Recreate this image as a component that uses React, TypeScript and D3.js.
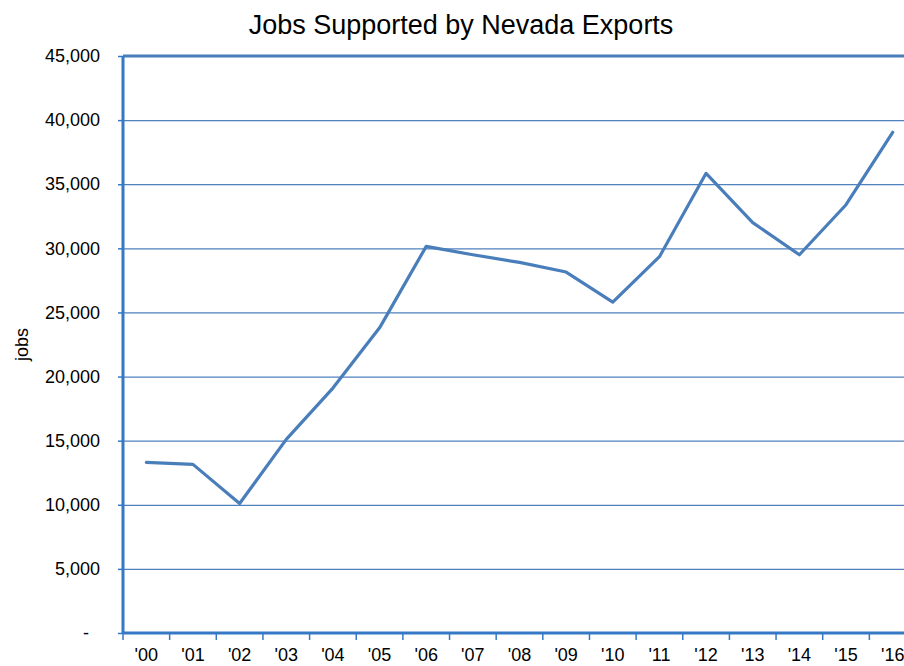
import { useEffect, useRef } from 'react';
import * as d3 from 'd3';

const years = ["'00", "'01", "'02", "'03", "'04", "'05", "'06", "'07", "'08", "'09", "'10", "'11", "'12", "'13", "'14", "'15", "'16"];
const jobs = [13300, 13150, 10100, 15100, 19100, 23800, 30150, 29500, 28900, 28150, 25800, 29350, 35850, 32000, 29500, 33400, 39050];
const yTicks = [0, 5000, 10000, 15000, 20000, 25000, 30000, 35000, 40000, 45000];

export default function App() {
  const svgRef = useRef<SVGSVGElement>(null);
  const width = 904;
  const height = 666;
  const margin = { top: 56, right: -12, bottom: 33, left: 123 };

  useEffect(() => {
    if (!svgRef.current) return;
    const innerW = width - margin.left - margin.right;
    const innerH = height - margin.top - margin.bottom;
    const font = 'Liberation Sans, Arial, sans-serif';

    const x = d3.scaleBand().domain(years).range([0, innerW]).paddingInner(0).paddingOuter(0);
    const y = d3.scaleLinear().domain([0, 45000]).range([innerH, 0]);

    const svg = d3.select(svgRef.current);
    svg.selectAll('*').remove();

    svg.append('text')
      .attr('x', 461).attr('y', 34)
      .attr('text-anchor', 'middle')
      .attr('font-family', font).attr('font-size', 27)
      .attr('fill', '#000')
      .text('Jobs Supported by Nevada Exports');

    svg.append('text')
      .attr('transform', `translate(28,${margin.top + innerH / 2}) rotate(-90)`)
      .attr('text-anchor', 'middle')
      .attr('font-family', font).attr('font-size', 18)
      .text('jobs');

    const g = svg.append('g').attr('transform', `translate(${margin.left},${margin.top})`);

    // grid
    g.append('g')
      .call(d3.axisLeft(y).tickValues(yTicks.filter((v) => v > 0 && v < 45000)).tickSize(-innerW).tickFormat(() => ''))
      .call((a) => { a.selectAll('.domain').remove(); a.selectAll('line').attr('stroke', '#4f81bd').attr('stroke-width', 1.2); });
    g.append('line')
      .attr('x1', 0).attr('x2', innerW).attr('y1', y(45000)).attr('y2', y(45000))
      .attr('stroke', '#4a7ebb').attr('stroke-width', 3);

    // y axis
    g.append('g')
      .call(d3.axisLeft(y).tickValues(yTicks).tickSize(5).tickPadding(18)
        .tickFormat((d) => (+d === 0 ? '-' : d3.format(',')(+d))))
      .call((a) => {
        a.selectAll('.domain').remove();
        a.selectAll('line').attr('stroke', '#3579c4').attr('stroke-width', 1.5);
        a.selectAll('text').attr('font-family', font).attr('font-size', 18).attr('fill', '#000');
        a.selectAll('.tick').filter((d) => +d === 0).select('text').attr('dx', -11);
      });
    g.append('line')
      .attr('x1', 0).attr('x2', 0).attr('y1', 0).attr('y2', innerH)
      .attr('stroke', '#3579c4').attr('stroke-width', 3);

    // x axis
    const xg = g.append('g').attr('transform', `translate(0,${innerH})`);
    xg.call(d3.axisBottom(x).tickSize(0).tickPadding(15))
      .call((a) => {
        a.selectAll('.domain').remove();
        a.selectAll('text').attr('font-family', font).attr('font-size', 18).attr('fill', '#000');
      });
    xg.selectAll('line.cat')
      .data(years)
      .join('line')
      .attr('class', 'cat')
      .attr('x1', (d) => x(d)!).attr('x2', (d) => x(d)!)
      .attr('y1', 0).attr('y2', 7)
      .attr('stroke', '#3579c4').attr('stroke-width', 1.5);
    xg.append('line')
      .attr('x1', 0).attr('x2', innerW).attr('y1', 0).attr('y2', 0)
      .attr('stroke', '#3579c4').attr('stroke-width', 3);

    const line = d3.line<number>()
      .x((_, i) => x(years[i])! + x.bandwidth() / 2)
      .y((d) => y(d));

    g.append('path')
      .datum(jobs)
      .attr('fill', 'none')
      .attr('stroke', '#4a7ebb')
      .attr('stroke-width', 3.2)
      .attr('stroke-linejoin', 'round')
      .attr('stroke-linecap', 'round')
      .attr('d', line);
  }, []);

  return (
    <>
      <style>{'body{margin:0;overflow:hidden}'}</style>
      <svg ref={svgRef} width={width} height={height} style={{ display: 'block', background: '#fff' }} />
    </>
  );
}
